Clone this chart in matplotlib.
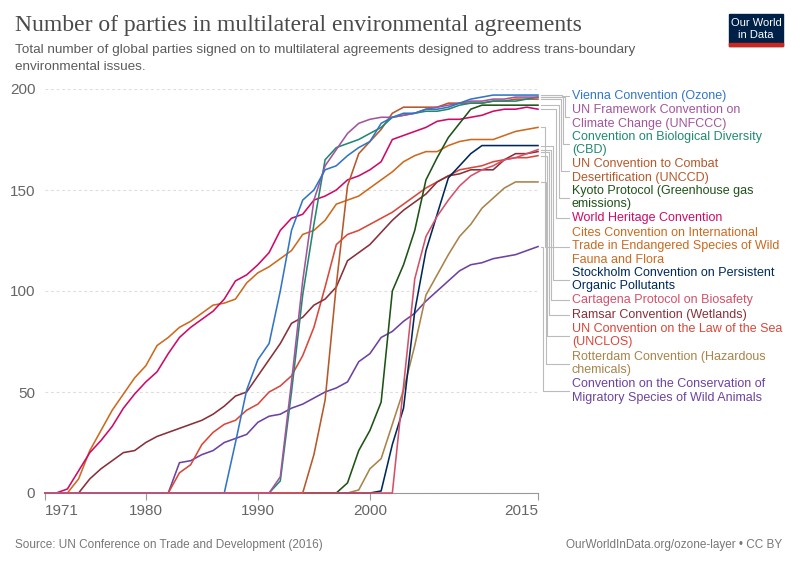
import matplotlib
matplotlib.use("Agg")
import matplotlib.pyplot as plt
from matplotlib.lines import Line2D
from matplotlib.patches import Rectangle

SANS = 'Liberation Sans'
SERIF = 'Liberation Serif'

years = list(range(1971, 2016))

vienna = [0, 0, 0, 0, 0, 0, 0, 0, 0, 0, 0, 0, 0, 0, 0, 0, 0,
          25, 51, 66, 74, 100, 130, 145, 150, 160, 162, 167, 171, 174, 183, 186, 188, 188,
          190, 190, 191, 193, 195, 196, 197, 197, 197, 197, 197]
unfccc = [0, 0, 0, 0, 0, 0, 0, 0, 0, 0, 0, 0, 0, 0, 0, 0, 0, 0, 0, 0, 0,
          8, 55, 105, 145, 162, 170, 178, 183, 185, 186, 186, 187, 188, 190, 191, 192, 193,
          194, 194, 195, 195, 196, 196, 196]
cbd = [0, 0, 0, 0, 0, 0, 0, 0, 0, 0, 0, 0, 0, 0, 0, 0, 0, 0, 0, 0, 0,
       6, 50, 98, 133, 165, 171, 173, 175, 178, 181, 186, 187, 188, 189, 189, 190, 192,
       193, 193, 194, 194, 194, 195, 196]
unccd = [0, 0, 0, 0, 0, 0, 0, 0, 0, 0, 0, 0, 0, 0, 0, 0, 0, 0, 0, 0, 0, 0, 0, 0,
         19, 46, 103, 152, 168, 174, 180, 188, 191, 191, 191, 191, 193, 193, 193, 193,
         194, 194, 195, 195, 195]
kyoto = [0, 0, 0, 0, 0, 0, 0, 0, 0, 0, 0, 0, 0, 0, 0, 0, 0, 0, 0, 0, 0, 0, 0, 0, 0, 0, 0,
         5, 21, 31, 45, 100, 113, 130, 155, 166, 176, 183, 190, 192, 192, 192, 192, 192, 192]
whc = [0, 0, 2, 11, 20, 26, 33, 42, 49, 55, 60, 69, 77, 82, 86, 90, 96, 105, 108, 113,
       119, 130, 136, 138, 145, 147, 150, 155, 157, 160, 164, 175, 177, 179, 181, 184,
       185, 185, 186, 187, 189, 190, 190, 191, 190]
cites = [0, 0, 0, 7, 21, 31, 41, 49, 57, 63, 73, 77, 82, 85, 89, 93, 94, 96, 104, 109,
         112, 116, 120, 128, 130, 135, 143, 145, 147, 151, 155, 159, 164, 167, 169, 169,
         172, 174, 175, 175, 175, 177, 179, 180, 181]
stockholm = [0, 0, 0, 0, 0, 0, 0, 0, 0, 0, 0, 0, 0, 0, 0, 0, 0, 0, 0, 0, 0, 0, 0, 0, 0,
             0, 0, 0, 0, 0, 1, 24, 42, 90, 120, 138, 156, 162, 168, 172, 172, 172, 172, 172, 172]
cartagena = [0, 0, 0, 0, 0, 0, 0, 0, 0, 0, 0, 0, 0, 0, 0, 0, 0, 0, 0, 0, 0, 0, 0, 0, 0,
             0, 0, 0, 0, 0, 0, 0, 53, 106, 127, 137, 145, 152, 157, 160, 162, 165, 166, 168, 170]
ramsar = [0, 0, 0, 0, 7, 12, 16, 20, 21, 25, 28, 30, 32, 34, 36, 39, 43, 48, 50, 58, 66,
          74, 84, 87, 93, 96, 102, 115, 119, 123, 129, 135, 140, 144, 148, 154, 157, 158,
          160, 160, 160, 165, 168, 168, 169]
unclos = [0, 0, 0, 0, 0, 0, 0, 0, 0, 0, 0, 0, 10, 14, 24, 30, 34, 36, 41, 44, 50, 53, 58,
          68, 82, 102, 123, 128, 130, 133, 136, 139, 143, 147, 151, 154, 157, 160, 161, 162,
          164, 165, 166, 166, 167]
rotterdam = [0, 0, 0, 0, 0, 0, 0, 0, 0, 0, 0, 0, 0, 0, 0, 0, 0, 0, 0, 0, 0, 0, 0, 0, 0,
             0, 0, 0, 1.5, 12, 17, 34, 51, 73, 98, 108, 118, 127, 133, 141, 146, 151, 154, 154, 154]
cms = [0, 0, 0, 0, 0, 0, 0, 0, 0, 0, 0, 0, 15, 16, 19, 21, 25, 27, 29, 35, 38, 39, 42, 44,
       47, 50, 52, 55, 65, 69, 77, 80, 85, 89, 95, 100, 105, 110, 113, 114, 116, 117, 118,
       120, 122]

series = [vienna, unfccc, cbd, unccd, kyoto, whc, cites, stockholm, cartagena,
          ramsar, unclos, rotterdam, cms]
labels = [
    "Vienna Convention (Ozone)",
    "UN Framework Convention on\nClimate Change (UNFCCC)",
    "Convention on Biological Diversity\n(CBD)",
    "UN Convention to Combat\nDesertification (UNCCD)",
    "Kyoto Protocol (Greenhouse gas\nemissions)",
    "World Heritage Convention",
    "Cites Convention on International\nTrade in Endangered Species of Wild\nFauna and Flora",
    "Stockholm Convention on Persistent\nOrganic Pollutants",
    "Cartagena Protocol on Biosafety",
    "Ramsar Convention (Wetlands)",
    "UN Convention on the Law of the Sea\n(UNCLOS)",
    "Rotterdam Convention (Hazardous\nchemicals)",
    "Convention on the Conservation of\nMigratory Species of Wild Animals",
]
colors = ["#3275c8", "#a2559c", "#21896f", "#b5582a", "#1e5216", "#cf0a66", "#cc6a1e",
          "#00295b", "#d4506a", "#883039", "#d9473a", "#a8834a", "#6d42a0"]

yticks = [0, 50, 100, 150, 200]
xticks = [1971, 1980, 1990, 2000, 2015]

W, H = 800, 564
fig = plt.figure(figsize=(W / 100, H / 100), dpi=100)
ax = fig.add_axes([45 / W, 1 - 493 / H, (538 - 45) / W, (493 - 89) / H])
ax.set_xlim(1971, 2015)
ax.set_ylim(0, 200)

draw_order = [12, 11, 10, 9, 7, 6, 5, 4, 3, 2, 1, 0, 8]
for i in draw_order:
    ax.plot(years, series[i], color=colors[i], lw=1.15, solid_joinstyle='round',
            clip_on=False, zorder=3 + (1 if i == 8 else 0))

for s in ['top', 'right', 'left']:
    ax.spines[s].set_visible(False)
ax.spines['bottom'].set_color('#999999')
ax.spines['bottom'].set_linewidth(0.8)

ax.set_yticks(yticks)
ax.set_yticklabels([str(v) for v in yticks])
ax.tick_params(axis='y', length=0, pad=7, labelsize=11, labelcolor='#666666')
ax.set_xticks(xticks)
ax.set_xticklabels([str(v) for v in xticks])
ax.tick_params(axis='x', length=5, width=0.8, color='#999999', pad=3,
               labelsize=11, labelcolor='#666666')
for lab in ax.get_yticklabels() + ax.get_xticklabels():
    lab.set_fontfamily(SANS)
xl = ax.get_xticklabels()
xl[0].set_horizontalalignment('left')
xl[-1].set_horizontalalignment('right')
ax.grid(axis='y', color='#dddddd', linestyle=(0, (2.5, 2.5)), linewidth=0.8)
ax.set_axisbelow(True)

# Titles
fig.text(15 / W, 1 - 25 / H, "Number of parties in multilateral environmental agreements",
         fontsize=17, family=SERIF, color='#4a4a4a', va='center', ha='left')
fig.text(15 / W, 1 - 50 / H,
         "Total number of global parties signed on to multilateral agreements designed to address trans-boundary",
         fontsize=9.7, family=SANS, color='#5b5b5b', va='center', ha='left')
fig.text(15 / W, 1 - 67 / H, "environmental issues.",
         fontsize=9.7, family=SANS, color='#5b5b5b', va='center', ha='left')

# Footer
fig.text(15 / W, 1 - 545 / H, "Source: UN Conference on Trade and Development (2016)",
         fontsize=8.5, family=SANS, color='#777777', va='center', ha='left')
fig.text(782 / W, 1 - 545 / H, "OurWorldInData.org/ozone-layer • CC BY",
         fontsize=8.5, family=SANS, color='#777777', va='center', ha='right')

# Logo
fig.patches.append(Rectangle((729 / W, 1 - 46 / H), 54 / W, 32 / H,
                             transform=fig.transFigure, color='#002147', zorder=5))
fig.patches.append(Rectangle((729 / W, 1 - 46 / H), 54 / W, 3 / H,
                             transform=fig.transFigure, color='#ce261e', zorder=6))
fig.text(756 / W, 1 - 23 / H, "Our World", fontsize=8, family=SANS, color='white',
         ha='center', va='center', zorder=7)
fig.text(756 / W, 1 - 35 / H, "in Data", fontsize=8, family=SANS, color='white',
         ha='center', va='center', zorder=7)

# Right-hand labels with connectors
first_line_y = [96, 110, 137, 164, 191, 218, 233, 273, 300, 315, 329, 357, 384]
vert_x = [562, 565, 563, 561, 559, 556, 545, 553, 551, 549, 547, 546, 543]
line_h = 13.5
label_x = 572
to_fig = fig.transFigure.inverted()
for i, lab in enumerate(labels):
    lines = lab.split("\n")
    for k, ln in enumerate(lines):
        fig.text(label_x / W, 1 - (first_line_y[i] + k * line_h) / H, ln,
                 fontsize=9, family=SANS, color=colors[i], va='center', ha='left')
    yc_px = first_line_y[i] + (len(lines) - 1) * line_h / 2
    x_end, y_end = ax.transData.transform((2015, series[i][-1]))
    yc_disp = (1 - yc_px / H) * fig.bbox.height
    sx = fig.bbox.width / W
    xs_disp = [x_end + 3 * sx, vert_x[i] * sx, vert_x[i] * sx, (label_x - 3) * sx]
    ys_disp = [y_end, y_end, yc_disp, yc_disp]
    pts = to_fig.transform(list(zip(xs_disp, ys_disp)))
    fig.add_artist(Line2D(pts[:, 0], pts[:, 1], transform=fig.transFigure,
                          color='#bbbbbb', lw=0.8))

fig.savefig("out.png", dpi=100)
